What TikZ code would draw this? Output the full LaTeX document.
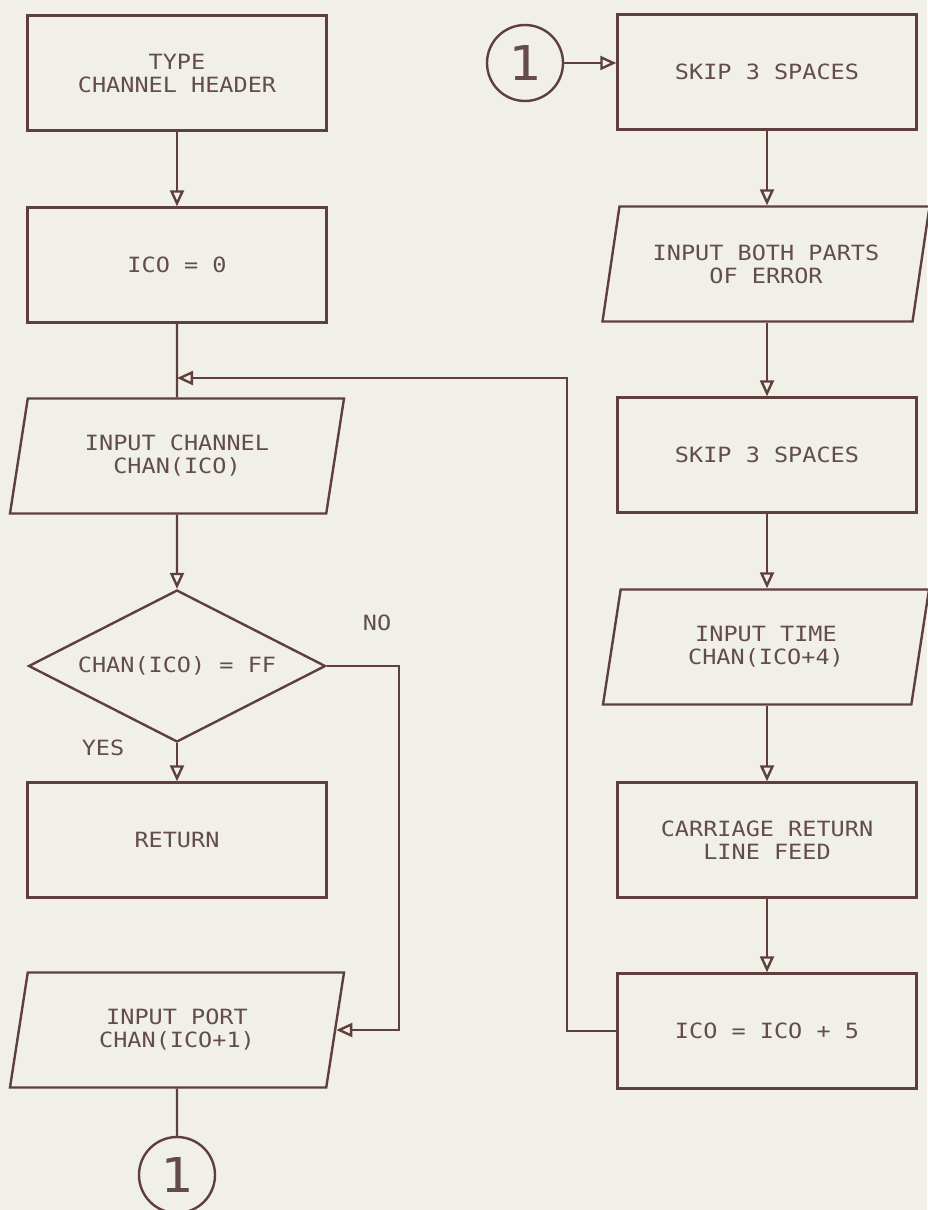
\documentclass[tikz,border=0pt]{standalone}
\usepackage{fontspec}
\newfontfamily\plotfont{DejaVu Sans Mono}[FakeStretch=1.12]
\usetikzlibrary{arrows.meta, shapes.geometric}
\definecolor{paper}{RGB}{240,240,233}
\definecolor{ink}{RGB}{95,62,62}
\definecolor{lead}{RGB}{100,76,76}

\begin{document}
\begin{tikzpicture}[x=0.5pt, y=-0.5pt, line width=1.2pt, color=ink,
  txt/.style={text=lead, font={\plotfont\fontsize{10.5}{11.5}\selectfont}},
  proc/.style={txt, draw, rectangle, align=center, minimum width=149.5pt, minimum height=57.5pt},
  io/.style={txt, draw, trapezium, trapezium left angle=72, trapezium right angle=108,
    trapezium stretches body, align=center, minimum width=167pt, minimum height=57.5pt},
  dec/.style={txt, draw, diamond, aspect=1.95, minimum width=148.5pt, minimum height=76pt, inner sep=0pt},
  conn/.style={draw, circle, minimum size=38pt, inner sep=0pt, text=lead,
    font={\plotfont\fontsize{24}{24}\selectfont}},
  lbl/.style={txt},
  arr/.style={-{Triangle[open, length=8pt, width=7pt]}}]

  % page
  \useasboundingbox (0,0) rectangle (927,1210);
  \fill[paper] (0,0) rectangle (927,1210);

  % left column
  \node[proc] (header) at (177,73) {TYPE\\CHANNEL HEADER};
  \node[proc] (init) at (177,265) {ICO = 0};
  \node[io] (inchan) at (177,456) {INPUT CHANNEL\\CHAN(ICO)};
  \node[dec] (test) at (177,666) {CHAN(ICO) = FF};
  \node[proc] (ret) at (177,840) {RETURN};
  \node[io] (inport) at (177,1030) {INPUT PORT\\CHAN(ICO+1)};
  \node[conn] (outconn) at (177,1175) {1};

  % branch labels
  \node[lbl] (no) at (377,623) {NO};
  \node[lbl] (yes) at (103,748) {YES};

  % right column
  \node[conn] (inconn) at (525,63) {1};
  \node[proc] (skipa) at (767,72) {SKIP 3 SPACES};
  \node[io, minimum width=163.5pt] (inerr) at (766,264) {INPUT BOTH PARTS\\OF ERROR};
  \node[proc] (skipb) at (767,455) {SKIP 3 SPACES};
  \node[io, minimum width=163pt] (intime) at (766,647) {INPUT TIME\\CHAN(ICO+4)};
  \node[proc] (crlf) at (767,840) {CARRIAGE RETURN\\LINE FEED};
  \node[proc] (incr) at (767,1031) {ICO = ICO + 5};

  % left flow
  \draw[arr] (header.south) -- (init.north);
  \draw (init.south) -- (inchan.north);
  \draw[arr] (inchan.south) -- (test.north);
  \draw[arr] (test.south) -- (ret.north);
  \draw[arr] (test.east) -- ++(72,0) |- (inport.east);
  \draw (inport.south) -- (outconn.north);

  % right flow
  \draw[arr] (inconn.east) -- (inconn.east -| skipa.west);
  \draw[arr] (skipa.south) -- (skipa.south |- inerr.north);
  \draw[arr] (skipa.south |- inerr.south) -- (skipb.north);
  \draw[arr] (skipb.south) -- (skipb.south |- intime.north);
  \draw[arr] (skipb.south |- intime.south) -- (crlf.north);
  \draw[arr] (crlf.south) -- (incr.north);

  % loop back
  \coordinate (loopc) at (567,378);
  \draw[arr] (incr.west) -| (loopc) -- (init.south |- loopc);
\end{tikzpicture}
\end{document}
